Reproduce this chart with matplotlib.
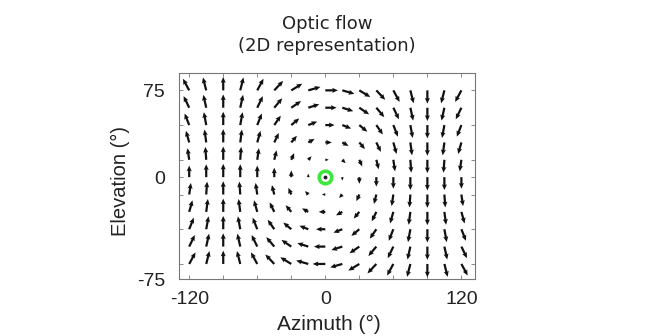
import numpy as np
import matplotlib
matplotlib.use("Agg")
import matplotlib.pyplot as plt
from matplotlib.transforms import ScaledTranslation

# ---- data ----
azimuth = [-120, -105, -90, -75, -60, -45, -30, -15, 0, 15, 30, 45, 60, 75, 90, 105, 120]
elevation = [75, 60, 45, 30, 15, 0, -15, -30, -45, -60, -75]

# horizontal flow component per grid point (rows: elevation 75 -> -75)
flow_h = [
    [-0.48, -0.25, 0.00, 0.25, 0.48, 0.68, 0.84, 0.93, 0.97, 0.93, 0.84, 0.68, 0.48, 0.25, 0.00, -0.25, -0.48],
    [-0.43, -0.22, 0.00, 0.22, 0.43, 0.61, 0.75, 0.84, 0.87, 0.84, 0.75, 0.61, 0.43, 0.22, 0.00, -0.22, -0.43],
    [-0.35, -0.18, 0.00, 0.18, 0.35, 0.50, 0.61, 0.68, 0.71, 0.68, 0.61, 0.50, 0.35, 0.18, 0.00, -0.18, -0.35],
    [-0.25, -0.13, 0.00, 0.13, 0.25, 0.35, 0.43, 0.48, 0.50, 0.48, 0.43, 0.35, 0.25, 0.13, 0.00, -0.13, -0.25],
    [-0.13, -0.07, 0.00, 0.07, 0.13, 0.18, 0.22, 0.25, 0.26, 0.25, 0.22, 0.18, 0.13, 0.07, 0.00, -0.07, -0.13],
    [0.00, 0.00, 0.00, 0.00, 0.00, 0.00, 0.00, 0.00, 0.00, 0.00, 0.00, 0.00, 0.00, 0.00, 0.00, 0.00, 0.00],
    [0.13, 0.07, 0.00, -0.07, -0.13, -0.18, -0.22, -0.25, -0.26, -0.25, -0.22, -0.18, -0.13, -0.07, 0.00, 0.07, 0.13],
    [0.25, 0.13, 0.00, -0.13, -0.25, -0.35, -0.43, -0.48, -0.50, -0.48, -0.43, -0.35, -0.25, -0.13, 0.00, 0.13, 0.25],
    [0.35, 0.18, 0.00, -0.18, -0.35, -0.50, -0.61, -0.68, -0.71, -0.68, -0.61, -0.50, -0.35, -0.18, 0.00, 0.18, 0.35],
    [0.43, 0.22, 0.00, -0.22, -0.43, -0.61, -0.75, -0.84, -0.87, -0.84, -0.75, -0.61, -0.43, -0.22, 0.00, 0.22, 0.43],
    [0.48, 0.25, 0.00, -0.25, -0.48, -0.68, -0.84, -0.93, -0.97, -0.93, -0.84, -0.68, -0.48, -0.25, 0.00, 0.25, 0.48],
]
# vertical flow component per azimuth column (same in every row)
flow_v_col = [0.87, 0.97, 1.00, 0.97, 0.87, 0.71, 0.50, 0.26, 0.00,
              -0.26, -0.50, -0.71, -0.87, -0.97, -1.00, -0.97, -0.87]

axis_center = (0, 0)
xticks = [-120, -90, -60, -30, 0, 30, 60, 90, 120]
xticklabels = ['-120', '', '', '', '0', '', '', '', '120']
yticks = [-75, -45, -15, 0, 15, 45, 75]
yticklabels = ['-75', '', '', '0', '', '', '75']

# ---- figure ----
fig = plt.figure(figsize=(6.51, 3.36), dpi=100)
ax = fig.add_axes([179/651, 1-279/336, 296/651, 206/336])

A, E = np.meshgrid(azimuth, elevation)
U = np.array(flow_h)
V = np.tile(np.array(flow_v_col), (len(elevation), 1))

ax.quiver(A, E, U, V, angles='xy', scale_units='xy', scale=1/11.5,
          color='#111111', width=0.0075, headwidth=2.3, headlength=2.6,
          headaxislength=2.3, pivot='tail', zorder=3)

ax.plot(*axis_center, 'o', ms=9, mfc='none', mec='#3ee63e', mew=2.6, zorder=4)
ax.plot(*axis_center, 'o', ms=1.8, color='#222222', zorder=5)

ax.set_xlim(-129, 132)
ax.set_ylim(-88, 90)
ax.set_xticks(xticks)
ax.set_xticklabels(xticklabels)
ax.set_yticks(yticks)
ax.set_yticklabels(yticklabels)

for lab in ax.get_xticklabels() + ax.get_yticklabels():
    lab.set_fontfamily('Liberation Sans')
    lab.set_fontsize(14)
    lab.set_color('#222222')

ax.tick_params(direction='in', length=3, width=0.6, color='#777777',
               top=True, right=True)
ax.tick_params(axis='x', pad=9)
ax.tick_params(axis='y', pad=10)

# shift the '-75' label down as in the reference
for lab in ax.get_yticklabels():
    if lab.get_text() == '-75':
        lab.set_transform(lab.get_transform() + ScaledTranslation(0, -16/100, fig.dpi_scale_trans))

for sp in ax.spines.values():
    sp.set_color('#777777')
    sp.set_linewidth(0.8)

ax.set_xlabel('Azimuth (°)', fontfamily='Liberation Sans', fontsize=15, color='#222222')
ax.set_ylabel('Elevation (°)', fontfamily='Liberation Sans', fontsize=14.5, color='#222222')
ax.xaxis.set_label_coords((329-179)/296, (279-324)/206)
ax.xaxis.label.set_va('center')
ax.yaxis.set_label_coords((120-179)/296, (279-181)/206)
ax.yaxis.label.set_va('center')

fig.text(327/651, 1-35/336, 'Optic flow\n(2D representation)', ha='center', va='center',
         fontfamily='DejaVu Sans', fontsize=13, color='#222222', linespacing=1.3)

fig.savefig('out.png', dpi=100)
